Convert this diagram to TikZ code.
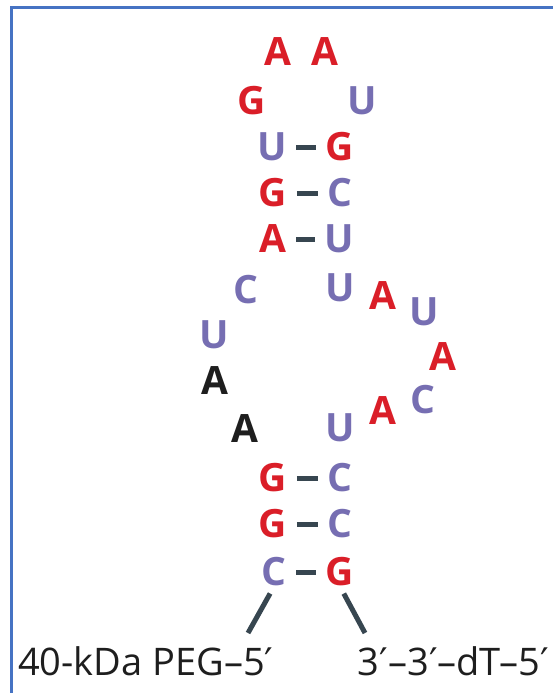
\documentclass[tikz,border=0pt]{standalone}
\usepackage{fontspec}
\setmainfont{Open Sans}
\newfontfamily\primefont{DejaVu Sans}
\definecolor{ntred}{RGB}{218,30,40}
\definecolor{ntpurple}{RGB}{118,110,178}
\definecolor{ntblack}{RGB}{30,30,30}
\definecolor{ntslate}{RGB}{55,70,80}
\definecolor{ntframe}{RGB}{70,115,195}
\newcommand{\primemark}{{\primefont ′}}
\usetikzlibrary{positioning}

\begin{document}
\begin{tikzpicture}[
  x=1pt,y=-1pt,
  nt/.style={inner sep=0pt,font=\fontsize{39}{39}\selectfont\bfseries},
  ntr/.style={nt,text=ntred},
  ntp/.style={nt,text=ntpurple},
  ntk/.style={nt,text=ntblack},
  bond/.style={line width=5pt,ntslate,shorten <=9.5pt,shorten >=9.5pt},
  tail/.style={line width=5pt,ntslate,shorten <=8pt},
  endlabel/.style={inner sep=0pt,font=\fontsize{38}{38}\selectfont,text=ntblack},
]
  \useasboundingbox (0,0) rectangle (553,693);
  \fill[white] (0,0) rectangle (553,693);

  % Frame (top and left)
  \draw[ntframe,line width=3pt] (11,693) -- (11,8) -- (553,8);

  % Hairpin loop (top)
  \node[ntr] (a1) at (278,52) {A};
  \node[ntr] (a2) at (325,52) {A};
  \node[ntr] (g1) at (252,101) {G};
  \node[ntp] (u1) at (362,101) {U};

  % Upper stem
  \node[ntp] (u2) at (272,147) {U};
  \node[ntr] (g2) at (340,147) {G};
  \node[ntr] (g3) at (273,193) {G};
  \node[ntp] (c1) at (340,193) {C};
  \node[ntr] (a3) at (273,239) {A};
  \node[ntp] (u3) at (339,239) {U};

  % Internal loop, left side
  \node[ntp] (c2) at (246,290) {C};
  \node[ntp] (u4) at (214,335) {U};
  \node[ntk] (a4) at (215,381) {A};
  \node[ntk] (a5) at (245,429) {A};

  % Internal loop, right side
  \node[ntp] (u5) at (340,288) {U};
  \node[ntr] (a6) at (383,296) {A};
  \node[ntp] (u6) at (424,312) {U};
  \node[ntr] (a7) at (443,357) {A};
  \node[ntp] (c3) at (423,400) {C};
  \node[ntr] (a8) at (383,411) {A};
  \node[ntp] (u7) at (340,428) {U};

  % Lower stem
  \node[ntr] (g4) at (273,478) {G};
  \node[ntp] (c4) at (340,478) {C};
  \node[ntr] (g5) at (273,524) {G};
  \node[ntp] (c5) at (340,524) {C};
  \node[ntp] (c6) at (274,572) {C};
  \node[ntr] (g6) at (340,572) {G};

  % Base pairs
  \draw[bond] (u2) -- (g2);
  \draw[bond] (g3) -- (c1);
  \draw[bond] (a3) -- (u3);
  \draw[bond] (g4) -- (c4);
  \draw[bond] (g5) -- (c5);
  \draw[bond] (c6) -- (g6);

  % Ends
  \node[endlabel,anchor=base west] (peg) at (18,675) {40-kDa PEG–5\primemark};
  \node[endlabel,anchor=base east] (dt) at (549,675) {3\primemark–3\primemark–dT–5\primemark};
  \coordinate (pegend) at (248,633);
  \coordinate (dtend) at (365,633);
  \draw[tail] (c6.south) -- (pegend);
  \draw[tail] (g6.south) -- (dtend);
\end{tikzpicture}
\end{document}
